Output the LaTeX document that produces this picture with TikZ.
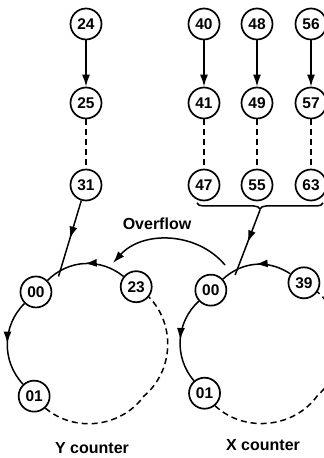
\documentclass[tikz,border=0pt]{standalone}
\usepackage{fontspec}
\setmainfont{Liberation Sans}
\usetikzlibrary{arrows.meta,calc,decorations.pathreplacing,decorations.markings}

\begin{document}
\begin{tikzpicture}[x=1pt,y=1pt,line width=1.5pt,
  cnt/.style={circle,draw,line width=1.7pt,minimum size=31pt,inner sep=0pt,
    font=\fontsize{15.5}{15.5}\selectfont\bfseries},
  arr/.style={-{Latex[length=12pt,width=8pt]}},
  dsh/.style={dash pattern=on 6pt off 4pt},
  midarr/.style={postaction={decorate},decoration={markings,
    mark=at position .5 with {\arrow{Latex[length=12pt,width=8pt]}}}},
  lab/.style={font=\fontsize{16}{16}\selectfont\bfseries}]

\useasboundingbox (0,0) rectangle (324,458);
\clip (0,0) rectangle (324,458);

%Y input

\node[cnt] (n24) at (86,434) {24};
\node[cnt] (n25) at (86,355) {25};
\node[cnt] (n31) at (86,273) {31};
\draw[arr] (n24) -- (n25);
\draw[dsh] (n25) -- (n31);

%X input

\foreach \a/\b/\c/\x in {40/41/47/204,48/49/55/257,56/57/63/311}{
  \node[cnt] (n\a) at (\x,434) {\a};
  \node[cnt] (n\b) at (\x,355) {\b};
  \node[cnt] (n\c) at (\x,273) {\c};
  \draw[arr] (n\a) -- (n\b);
  \draw[dsh] (n\b) -- (n\c);
}

\draw[decorate,decoration={brace,amplitude=6pt}] (323,255) -- (197,255);
\coordinate (btip) at (260,248);

%Y counter

\begin{scope}
\coordinate (yc) at (89,113);
\node[cnt] (y00) at ($(yc)+(135:75)$) {00};
\node[cnt] (y23) at ($(yc)+(51:75)$) {23};
\node[cnt] (y01) at ($(yc)+(223:75)$) {01};
\coordinate (ybot) at ($(yc)+(317:75)$);
\coordinate (yin) at ($(yc)+(114:75)$);

\draw[midarr] (y23) to[bend right=42] (y00);
\draw[midarr] (y00) to[bend right=44] (y01);
\draw[dsh] (y01) to[bend right=47] (ybot) to[bend right=47] (y23);
\draw[midarr] (n31) -- (yin);

\node[lab] (ylab) at (92,10) {Y counter};
\end{scope}

%X counter

\begin{scope}
\coordinate (xc) at (262,113);
\node[cnt] (x00) at ($(xc)+(133:75)$) {00};
\node[cnt] (x39) at ($(xc)+(56:75)$) {39};
\node[cnt] (x01) at ($(xc)+(220:75)$) {01};
\coordinate (xbot) at ($(xc)+(318:75)$);
\coordinate (xin) at ($(xc)+(111:75)$);

\draw[midarr] (x39) to[bend right=38] (x00);
\draw[midarr] (x00) to[bend right=44] (x01);
\draw[dsh] (x01) to[bend right=49] (xbot) to[bend right=49] (x39);
\draw[midarr] (btip) -- (xin);

\node[lab] (xlab) at (263,13) {X counter};
\end{scope}

%Overflow

\coordinate (ovs) at (225,193);
\coordinate (ove) at (113,195);
\draw[arr] (ovs) to[bend right=49] (ove);
\node[lab] (ovl) at (157,234) {Overflow};

\end{tikzpicture}
\end{document}
